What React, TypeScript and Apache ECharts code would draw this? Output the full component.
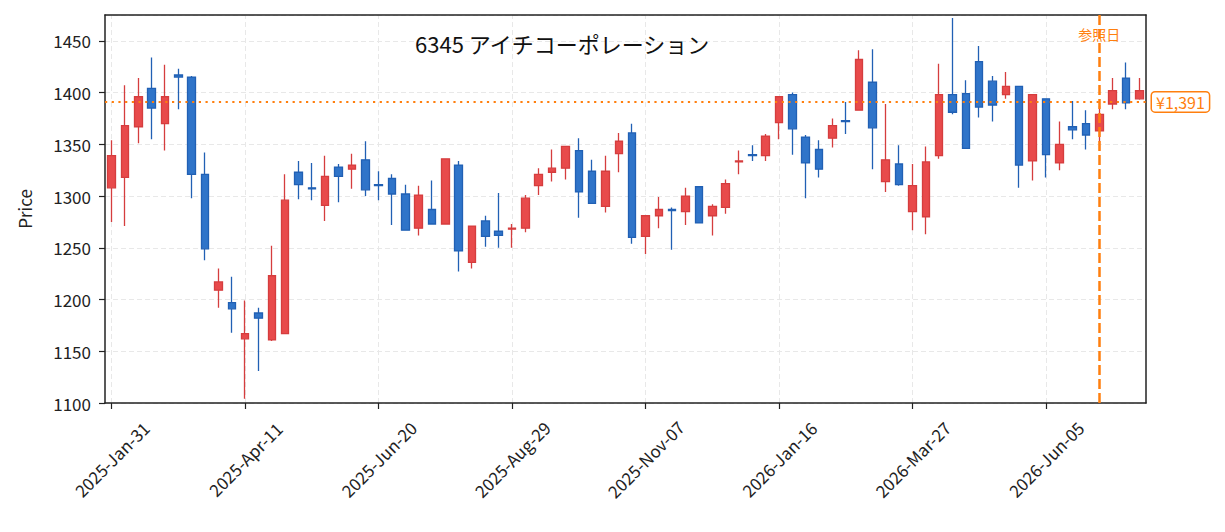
import React, { useEffect, useRef } from "react";
import * as echarts from "echarts";

const dates = [
  "2025-Jan-31", "2025-Feb-07", "2025-Feb-14", "2025-Feb-21", "2025-Feb-28", "2025-Mar-07", "2025-Mar-14", "2025-Mar-21", "2025-Mar-28", "2025-Apr-04",
  "2025-Apr-11", "2025-Apr-18", "2025-Apr-25", "2025-May-02", "2025-May-09", "2025-May-16", "2025-May-23", "2025-May-30", "2025-Jun-06", "2025-Jun-13",
  "2025-Jun-20", "2025-Jun-27", "2025-Jul-04", "2025-Jul-11", "2025-Jul-18", "2025-Jul-25", "2025-Aug-01", "2025-Aug-08", "2025-Aug-15", "2025-Aug-22",
  "2025-Aug-29", "2025-Sep-05", "2025-Sep-12", "2025-Sep-19", "2025-Sep-26", "2025-Oct-03", "2025-Oct-10", "2025-Oct-17", "2025-Oct-24", "2025-Oct-31",
  "2025-Nov-07", "2025-Nov-14", "2025-Nov-21", "2025-Nov-28", "2025-Dec-05", "2025-Dec-12", "2025-Dec-19", "2025-Dec-26", "2026-Jan-02", "2026-Jan-09",
  "2026-Jan-16", "2026-Jan-23", "2026-Jan-30", "2026-Feb-06", "2026-Feb-13", "2026-Feb-20", "2026-Feb-27", "2026-Mar-06", "2026-Mar-13", "2026-Mar-20",
  "2026-Mar-27", "2026-Apr-03", "2026-Apr-10", "2026-Apr-17", "2026-Apr-24", "2026-May-01", "2026-May-08", "2026-May-15", "2026-May-22", "2026-May-29",
  "2026-Jun-05", "2026-Jun-12", "2026-Jun-19", "2026-Jun-26", "2026-Jul-03", "2026-Jul-10", "2026-Jul-17", "2026-Jul-24",
];

const opens = [
  1308, 1318, 1367, 1404, 1370, 1417, 1415, 1321, 1209, 1197,
  1162, 1187, 1161, 1167, 1323, 1308, 1291, 1328, 1326, 1335,
  1311, 1317, 1302, 1269, 1287, 1273, 1330, 1236, 1276, 1266,
  1268, 1269, 1310, 1323, 1327, 1344, 1324, 1290, 1341, 1361,
  1261, 1281, 1287, 1285, 1309, 1281, 1289, 1333, 1340, 1339,
  1371, 1398, 1357, 1345, 1356, 1373, 1383, 1410, 1314, 1331,
  1285, 1280, 1339, 1398, 1399, 1430, 1411, 1398, 1406, 1334,
  1394, 1332, 1367, 1370, 1363, 1389, 1414, 1394,
];

const closes = [
  1339, 1368, 1396, 1385, 1396, 1415, 1321, 1249, 1217, 1191,
  1167, 1182, 1223, 1296, 1311, 1307, 1319, 1319, 1330, 1306,
  1310, 1302, 1267, 1301, 1273, 1336, 1247, 1271, 1261, 1262,
  1269, 1298, 1321, 1327, 1348, 1304, 1293, 1324, 1353, 1260,
  1281, 1287, 1286, 1300, 1274, 1290, 1312, 1334, 1339, 1358,
  1396, 1365, 1332, 1326, 1368, 1372, 1432, 1366, 1335, 1311,
  1310, 1333, 1398, 1381, 1346, 1386, 1388, 1406, 1330, 1398,
  1340, 1350, 1364, 1359, 1379, 1402, 1390, 1402,
];

const lows = [
  1275, 1271, 1351, 1355, 1344, 1384, 1298, 1238, 1192, 1168,
  1104, 1131, 1160, 1167, 1297, 1296, 1276, 1294, 1307, 1300,
  1296, 1272, 1267, 1262, 1273, 1273, 1227, 1230, 1251, 1250,
  1250, 1265, 1301, 1314, 1316, 1279, 1293, 1284, 1323, 1254,
  1244, 1269, 1248, 1272, 1274, 1262, 1283, 1321, 1334, 1334,
  1355, 1340, 1298, 1318, 1347, 1360, 1383, 1326, 1304, 1310,
  1267, 1263, 1336, 1379, 1346, 1376, 1372, 1394, 1308, 1315,
  1318, 1325, 1355, 1345, 1344, 1384, 1384, 1393,
];

const highs = [
  1354, 1407, 1414, 1434, 1427, 1423, 1416, 1342, 1230, 1222,
  1199, 1192, 1252, 1321, 1334, 1332, 1339, 1331, 1341, 1353,
  1324, 1321, 1311, 1310, 1315, 1336, 1334, 1271, 1281, 1303,
  1273, 1301, 1327, 1345, 1348, 1356, 1335, 1339, 1361, 1370,
  1281, 1299, 1289, 1308, 1309, 1292, 1316, 1344, 1349, 1360,
  1396, 1400, 1359, 1354, 1375, 1391, 1441, 1442, 1389, 1349,
  1331, 1348, 1428, 1472, 1412, 1445, 1416, 1420, 1406, 1398,
  1394, 1372, 1392, 1383, 1387, 1414, 1429, 1414,
];

const titleText = "6345 アイチコーポレーション";
const yMin = 1100;
const yMax = 1475;
const yStep = 50;
const refPrice = 1391;
const refDate = "2026-Jul-03";
const refLabel = "参照日";
const refLabelPrice = 1457;
const labelEvery = 10;

const FONT = "'Noto Sans CJK JP', 'Noto Sans', sans-serif";
const ORANGE = "#ff7f0e";
const AXIS = "#222";

export default function App() {
  const ref = useRef<HTMLDivElement>(null);

  useEffect(() => {
    document.body.style.margin = "0";
    const chart = echarts.init(ref.current!, undefined, { renderer: "svg" });
    const candleData = dates.map((_, i) => [opens[i], closes[i], lows[i], highs[i]]);
    const gridDates = dates.filter((_, i) => i % labelEvery === 0);
    const frameLine = { show: true, lineStyle: { color: AXIS, width: 1.5 } };

    chart.setOption({
      animation: false,
      backgroundColor: "#ffffff",
      title: {
        text: titleText,
        left: 410,
        top: 27,
        textStyle: { fontFamily: FONT, fontSize: 22, fontWeight: "normal", color: "#111" },
      },
      grid: {
        left: 105,
        right: 79,
        top: 15,
        bottom: 129,
        show: false,
      },
      xAxis: [
        {
          type: "category",
          data: dates,
          boundaryGap: true,
          axisLine: frameLine,
          axisTick: { show: true, alignWithLabel: true, interval: labelEvery - 1, length: 6, lineStyle: { color: AXIS, width: 1.2 } },
          axisLabel: {
            interval: labelEvery - 1,
            rotate: 45,
            align: "center",
            verticalAlign: "middle",
            margin: 56,
            fontFamily: FONT,
            fontSize: 17,
            color: AXIS,
          },
          splitLine: { show: false },
        },
        {
          type: "category",
          data: dates,
          position: "top",
          boundaryGap: true,
          axisLine: frameLine,
          axisTick: { show: false },
          axisLabel: { show: false },
          splitLine: { show: false },
        },
      ],
      yAxis: [
        {
          type: "value",
          min: yMin,
          max: yMax,
          interval: yStep,
          name: "Price",
          nameLocation: "middle",
          nameGap: 72,
          nameRotate: 90,
          nameTextStyle: { fontFamily: FONT, fontSize: 17, color: AXIS },
          axisLine: frameLine,
          axisTick: { show: true, length: 6, lineStyle: { color: AXIS, width: 1.2 } },
          axisLabel: {
            showMaxLabel: false,
            margin: 14,
            fontFamily: FONT,
            fontSize: 17,
            color: AXIS,
            formatter: (v: number) => String(v),
          },
          splitLine: { show: true, lineStyle: { color: "#e8e8e8", type: [5, 3], width: 1 } },
        },
        {
          type: "value",
          min: yMin,
          max: yMax,
          interval: yStep,
          position: "right",
          axisLine: frameLine,
          axisTick: { show: false },
          axisLabel: { show: false },
          splitLine: { show: false },
        },
      ],
      series: [
        {
          type: "line",
          data: [],
          z: 1,
          silent: true,
          markLine: {
            silent: true,
            z: 0,
            symbol: ["none", "none"],
            label: { show: false },
            lineStyle: { color: "#e8e8e8", type: [5, 3], width: 1 },
            data: gridDates.map((d) => ({ xAxis: d })),
          },
        },
        {
          type: "candlestick",
          data: candleData,
          barWidth: "60%",
          z: 3,
          itemStyle: {
            color: "#e84a4b",
            color0: "#2f74c9",
            borderColor: "#d53d3e",
            borderColor0: "#2160b4",
            borderWidth: 1.3,
          },
          markLine: {
            silent: true,
            symbol: ["none", "none"],
            z: 6,
            data: [
              {
                yAxis: refPrice,
                lineStyle: { color: ORANGE, type: [2.2, 4.5], width: 2 },
                label: {
                  show: true,
                  position: "end",
                  distance: 6,
                  formatter: "¥" + refPrice.toLocaleString("en-US"),
                  fontFamily: FONT,
                  fontSize: 16,
                  color: ORANGE,
                  backgroundColor: "#ffffff",
                  borderColor: ORANGE,
                  borderWidth: 1.5,
                  borderRadius: 3,
                  padding: [2, 4, 1, 4],
                },
              },
              {
                xAxis: refDate,
                lineStyle: { color: ORANGE, type: [10, 4], width: 2.5 },
                label: { show: false },
              },
            ],
          },
          markPoint: {
            silent: true,
            symbol: "rect",
            symbolSize: 1,
            z: 7,
            itemStyle: { color: "rgba(0,0,0,0)" },
            data: [
              {
                coord: [refDate, refLabelPrice],
                label: {
                  show: true,
                  position: "inside",
                  formatter: refLabel,
                  fontFamily: FONT,
                  fontSize: 14,
                  color: ORANGE,
                },
              },
            ],
          },
        },
      ],
    });

    return () => chart.dispose();
  }, []);

  return <div ref={ref} style={{ width: 1225, height: 532 }} />;
}
